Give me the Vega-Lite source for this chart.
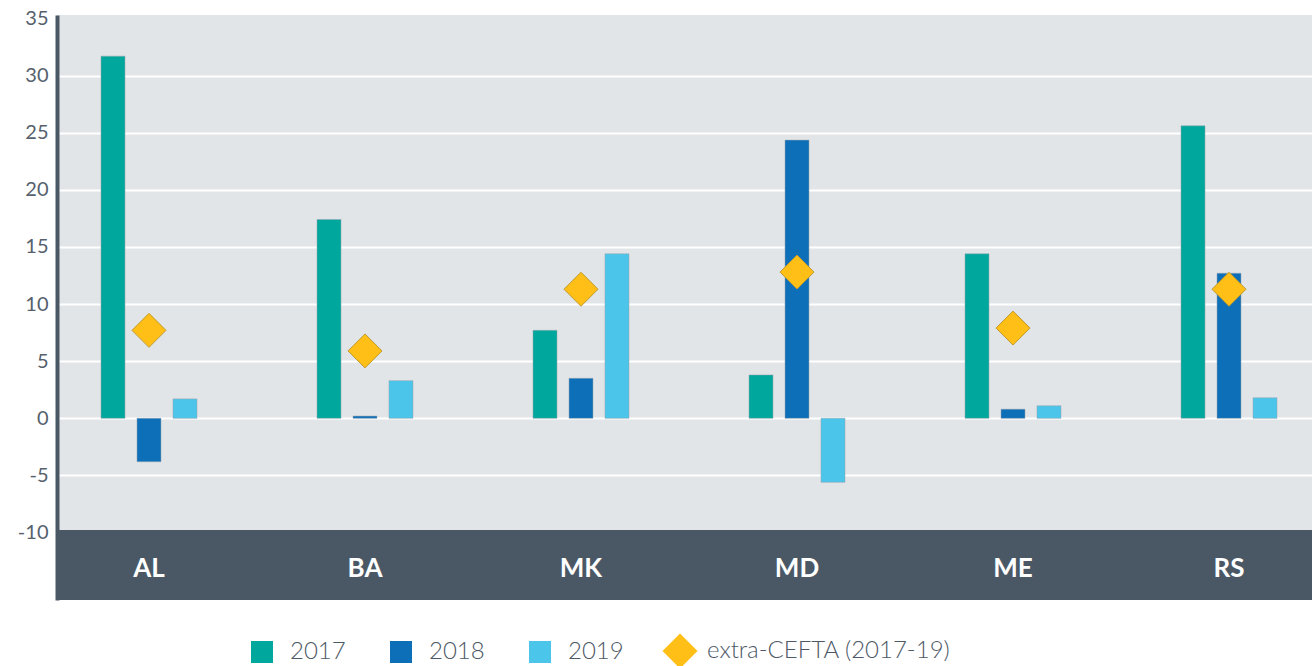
{
  "$schema": "https://vega.github.io/schema/vega-lite/v6.json",
  "width": 1255,
  "height": 585,
  "autosize": {"type": "none"},
  "padding": {"left": 57, "top": 15, "right": 0, "bottom": 66},
  "background": "white",
  "config": {
    "view": {"fill": "#e1e5e8", "stroke": null},
    "font": "Lato"
  },
  "datasets": {
    "bars": [
      {"cat": "AL", "series": "2017", "value": 31.7},
      {"cat": "AL", "series": "2018", "value": -3.8},
      {"cat": "AL", "series": "2019", "value": 1.7},
      {"cat": "BA", "series": "2017", "value": 17.4},
      {"cat": "BA", "series": "2018", "value": 0.2},
      {"cat": "BA", "series": "2019", "value": 3.3},
      {"cat": "MK", "series": "2017", "value": 7.7},
      {"cat": "MK", "series": "2018", "value": 3.5},
      {"cat": "MK", "series": "2019", "value": 14.4},
      {"cat": "MD", "series": "2017", "value": 3.8},
      {"cat": "MD", "series": "2018", "value": 24.35},
      {"cat": "MD", "series": "2019", "value": -5.6},
      {"cat": "ME", "series": "2017", "value": 14.4},
      {"cat": "ME", "series": "2018", "value": 0.8},
      {"cat": "ME", "series": "2019", "value": 1.1},
      {"cat": "RS", "series": "2017", "value": 25.6},
      {"cat": "RS", "series": "2018", "value": 12.7},
      {"cat": "RS", "series": "2019", "value": 1.8}
    ],
    "points": [
      {"cat": "AL", "measure": "extra-CEFTA (2017-19)", "value": 7.7},
      {"cat": "BA", "measure": "extra-CEFTA (2017-19)", "value": 5.9},
      {"cat": "MK", "measure": "extra-CEFTA (2017-19)", "value": 11.3},
      {"cat": "MD", "measure": "extra-CEFTA (2017-19)", "value": 12.8},
      {"cat": "ME", "measure": "extra-CEFTA (2017-19)", "value": 7.9},
      {"cat": "RS", "measure": "extra-CEFTA (2017-19)", "value": 11.3}
    ],
    "cats": [
      {"cat": "AL"}, {"cat": "BA"}, {"cat": "MK"}, {"cat": "MD"}, {"cat": "ME"}, {"cat": "RS"}
    ]
  },
  "layer": [
    {
      "data": {"values": [{}]},
      "mark": {"type": "rect", "color": "#4a5866"},
      "encoding": {
        "y": {"datum": -15.9, "type": "quantitative", "title": null},
        "y2": {"datum": -9.77}
      }
    },
    {
      "data": {"name": "bars"},
      "mark": {"type": "bar", "stroke": "#9aa4ad", "strokeWidth": 1, "strokeOpacity": 0.5},
      "encoding": {
        "x": {
          "field": "cat", "type": "nominal", "sort": null, "axis": null,
          "scale": {"type": "band", "range": [0, 1264], "paddingInner": 0.5556, "paddingOuter": 0.2037}
        },
        "xOffset": {
          "field": "series", "type": "nominal",
          "scale": {"paddingInner": 0.3333, "paddingOuter": 0}
        },
        "y": {
          "field": "value", "type": "quantitative", "title": null,
          "scale": {"domain": [-15.9, 35.3], "nice": false, "zero": false},
          "axis": {
            "values": [-10, -5, 0, 5, 10, 15, 20, 25, 30, 35],
            "labelExpr": "'' + datum.value",
            "domainColor": "#4a5866",
            "domainWidth": 4,
            "ticks": false,
            "labelPadding": 9,
            "labelFontSize": 20,
            "labelColor": "#56616d",
            "labelFont": "Lato",
            "grid": true,
            "gridColor": "white",
            "gridWidth": 2,
            "gridOpacity": {"condition": {"test": "datum.value >= 35", "value": 0}, "value": 1}
          }
        },
        "color": {
          "field": "series", "type": "nominal",
          "scale": {
            "domain": ["2017", "2018", "2019"],
            "range": ["#00a79d", "#0c6fb8", "#4bc6ea"]
          },
          "legend": {
            "title": null,
            "orient": "none",
            "legendX": 193,
            "legendY": 625,
            "direction": "horizontal",
            "padding": 0,
            "labelFontSize": 24,
            "labelFont": "Lato",
            "labelFontWeight": 300,
            "labelColor": "#4d5966",
            "labelOffset": 16,
            "labelLimit": 500,
            "columnPadding": 43,
            "symbolSize": 484,
            "symbolType": "square",
            "symbolOpacity": 1,
            "symbolStrokeWidth": 0
          }
        }
      }
    },
    {
      "data": {"name": "points"},
      "mark": {"type": "point", "filled": true, "opacity": 1, "size": 1156, "color": "#ffbf16", "stroke": "#c09a30", "strokeWidth": 1},
      "encoding": {
        "x": {"field": "cat", "type": "nominal", "sort": null, "axis": null},
        "y": {"field": "value", "type": "quantitative", "title": null},
        "shape": {
          "field": "measure", "type": "nominal",
          "scale": {"domain": ["extra-CEFTA (2017-19)"], "range": ["diamond"]},
          "legend": {
            "title": null,
            "orient": "none",
            "legendX": 605,
            "legendY": 618,
            "direction": "horizontal",
            "padding": 0,
            "labelFontSize": 24,
            "labelFont": "Lato",
            "labelFontWeight": 300,
            "labelColor": "#4d5966",
            "labelOffset": 9,
            "labelLimit": 500,
            "symbolSize": 1225,
            "symbolFillColor": "#ffbf16",
            "symbolStrokeColor": "#c9a43a",
            "symbolStrokeWidth": 0.5,
            "symbolOpacity": 1
          }
        }
      }
    },
    {
      "data": {"name": "cats"},
      "mark": {"type": "text", "color": "white", "fontSize": 26, "fontWeight": "bold", "font": "Lato", "baseline": "middle", "align": "center"},
      "encoding": {
        "x": {"field": "cat", "type": "nominal", "sort": null, "axis": null},
        "y": {"datum": -13.2, "type": "quantitative"},
        "text": {"field": "cat"}
      }
    }
  ]
}
